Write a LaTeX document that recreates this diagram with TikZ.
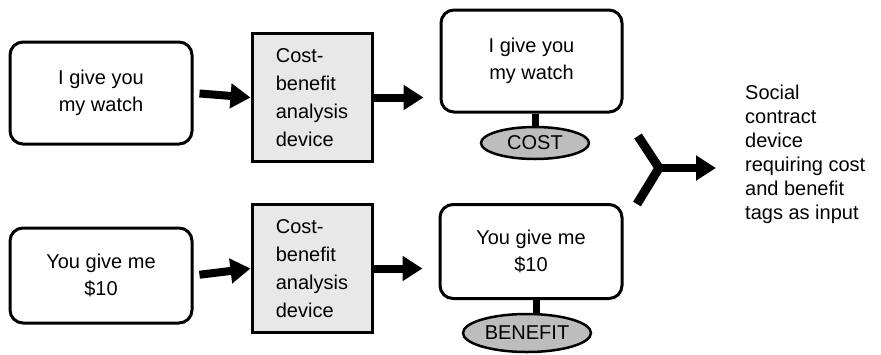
\documentclass[tikz,border=0pt]{standalone}
\usepackage{fontspec}
\setmainfont{Liberation Sans}
\usetikzlibrary{arrows.meta,shapes.geometric}
\definecolor{boxgray}{HTML}{E8E8E8}
\definecolor{tagraw}{HTML}{BDBDBD}
\tikzset{
  situation/.style={draw, line width=3pt, rounded corners=13pt, fill=white,
    align=center, inner sep=0pt, font=\fontsize{20}{27}\selectfont},
  cbdevice/.style={draw, line width=3pt, fill=boxgray, align=left, inner sep=0pt,
    minimum width=120pt, minimum height=128pt, font=\fontsize{20}{28}\selectfont},
  tag/.style={draw, ellipse, line width=2.5pt, fill=tagraw, inner sep=0pt,
    font=\fontsize{20}{25}\selectfont},
  fat/.style={line width=8pt, -{Triangle[length=20pt,width=24pt]}},
  stem/.style={line width=7pt},
  prong/.style={line width=9pt},
  note/.style={align=left, anchor=north west, inner sep=0pt, font=\fontsize{20}{24}\selectfont}
}
\begin{document}
\begin{tikzpicture}[x=1pt,y=-1pt]
\useasboundingbox (0,0) rectangle (881,354);
% top row
\node[situation, minimum width=182pt, minimum height=102pt] (b1) at (101,93) {I give you\\my watch};
\node[cbdevice] (b2) at (312,97.5) {Cost-\\benefit\\analysis\\device};
\node[situation, minimum width=181pt, minimum height=102pt] (b3) at (531.5,61) {I give you\\my watch};
\node[tag, minimum width=108pt, minimum height=32pt] (cost) at (535,143) {COST};
% bottom row
\node[situation, minimum width=182pt, minimum height=95pt] (b4) at (101,275.5) {You give me\\\$10};
\node[cbdevice] (b5) at (312,268.5) {Cost-\\benefit\\analysis\\device};
\node[situation, minimum width=182pt, minimum height=94pt] (b6) at (531,251.5) {You give me\\\$10};
\node[tag, minimum width=128pt, minimum height=38pt] (benefit) at (527,333) {BENEFIT};
% stems
\draw[stem] (b3.south -| cost.north) -- (cost.north);
\draw[stem] (b6.south -| 536,0) -- (536,314);
% arrows
\draw[fat, shorten <=6pt] (b1.east) -- (b2.west);
\draw[fat] (b2.east) -- ([xshift=-16pt]b2.east -| b3.west);
\draw[fat, shorten <=6pt] (b4.east) -- (b5.west);
\draw[fat] (b5.east) -- ([xshift=-16pt]b5.east -| b6.west);
% Y junction
\coordinate (ya) at (638,136);
\coordinate (yb) at (637,204);
\coordinate (yj) at (659,168);
\coordinate (yt) at (716,168);
\draw[prong, line join=miter] (ya) -- (yj) -- (yb);
\draw[fat] (yj) -- (yt);
% description
\node[note] (desc) at (745,85) {Social\\contract\\device\\requiring cost\\and benefit\\tags as input};
\end{tikzpicture}
\end{document}
